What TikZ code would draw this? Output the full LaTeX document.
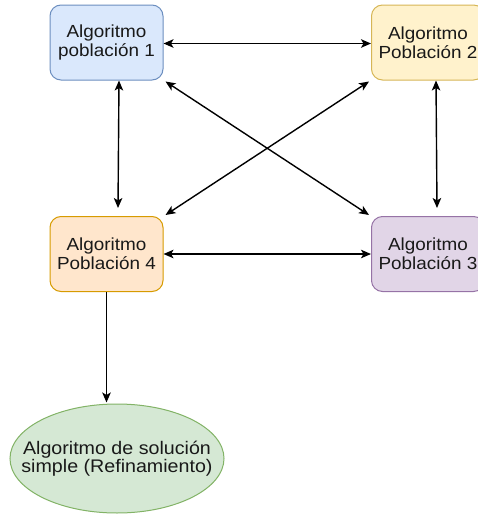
\documentclass[tikz,border=0pt]{standalone}
\usepackage{fontspec}
\setmainfont[FakeStretch=1.08]{Liberation Sans}
\usetikzlibrary{arrows.meta,shapes.geometric}
\definecolor{bluef}{HTML}{DAE8FC}\definecolor{blued}{HTML}{6C8EBF}
\definecolor{yelf}{HTML}{FFF2CC}\definecolor{yeld}{HTML}{D6B656}
\definecolor{oraf}{HTML}{FFE6CC}\definecolor{orad}{HTML}{D79B00}
\definecolor{purf}{HTML}{E1D5E7}\definecolor{purd}{HTML}{9673A6}
\definecolor{grnf}{HTML}{D5E8D4}\definecolor{grnd}{HTML}{82B366}
\begin{document}
\begin{tikzpicture}[x=1pt,y=-1pt,
  box/.style={draw, rounded corners=11pt, minimum width=113pt, minimum height=75pt,
    align=center, line width=1pt, inner sep=0pt, text=black!90,
    font=\fontsize{17.5}{19}\selectfont},
  tip/.tip={Stealth[length=10pt,width=8.5pt,inset=2.5pt]},
  con/.style={line width=1.4pt, tip-tip},
  one/.style={line width=1.4pt, -tip}]
\useasboundingbox (0,0) rectangle (478,514);
\clip (0,0) rectangle (478,514);
\node[box, fill=bluef, draw=blued] (b1) at (106.5,42.5) {Algoritmo\\población 1};
\node[box, fill=yelf, draw=yeld] (b2) at (428,42.5) {Algoritmo\\Población 2};
\node[box, fill=oraf, draw=orad] (b4) at (106.5,254) {Algoritmo\\Población 4};
\node[box, fill=purf, draw=purd] (b3) at (428,254) {Algoritmo\\Población 3};
\node[ellipse, draw=grnd, fill=grnf, line width=1pt, minimum width=214pt, minimum height=109pt,
  inner sep=0pt] (e) at (117,458.5) {};
\node[align=center, text=black!90, inner sep=0pt, font=\fontsize{18.2}{18.5}\selectfont]
  (et) at (e.center) {Algoritmo de solución\\simple (Refinamiento)};
\draw[con] ([yshift=-1pt]b1.east) -- ([yshift=-1pt]b2.west);
\draw[con] (b4.east) -- (b3.west);
\draw[con] ([xshift=12.5pt]b1.south) -- ([xshift=11.5pt,yshift=8pt]b4.north);
\draw[con] ([xshift=8pt]b2.south) -- ([xshift=9pt,yshift=8pt]b3.north);
\draw[con] ([shift={(2pt,-1pt)}]b1.south east) -- ([shift={(-2pt,1pt)}]b3.north west);
\draw[con] ([shift={(-2pt,-1pt)}]b2.south west) -- ([shift={(2pt,1pt)}]b4.north east);
\draw[one] (b4.south) -- ([yshift=1pt]b4.south |- e.north);
\end{tikzpicture}
\end{document}
